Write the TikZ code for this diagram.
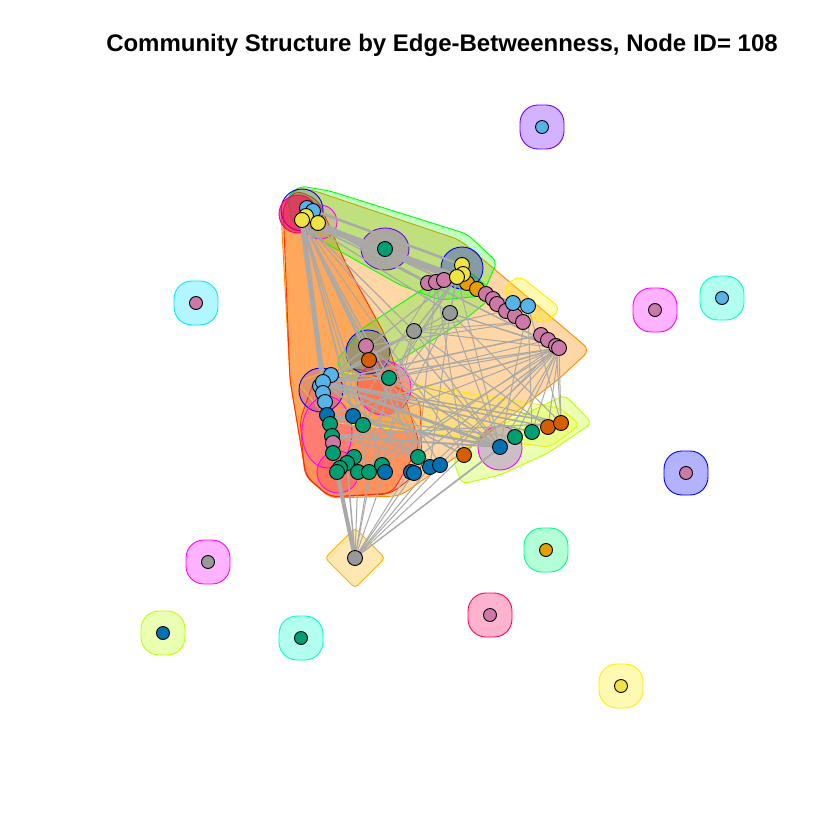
\documentclass[tikz,border=0pt]{standalone}
\usepackage{fontspec}
\setsansfont{Liberation Sans}
\usepackage{xcolor}
\pgfdeclarelayer{hulls}
\pgfdeclarelayer{edges}
\pgfsetlayers{hulls,edges,main}

% vertex colours
\definecolor{oOrange}{HTML}{E69F00}
\definecolor{oSky}{HTML}{56B4E9}
\definecolor{oGreen}{HTML}{009E73}
\definecolor{oYellow}{HTML}{F0E442}
\definecolor{oBlue}{HTML}{0072B2}
\definecolor{oVerm}{HTML}{D55E00}
\definecolor{oPink}{HTML}{CC79A7}
\definecolor{oGray}{HTML}{999999}
\definecolor{edgegray}{HTML}{A9A9A9}
% community colours
\definecolor{hRed}{HTML}{FF3000}
\definecolor{hOrange}{HTML}{FF8C00}
\definecolor{hDark}{HTML}{FF7A10}
\definecolor{hAmber}{HTML}{FFB000}
\definecolor{hYellow}{HTML}{FFEE00}
\definecolor{hLime}{HTML}{BBFF00}
\definecolor{hGreen}{HTML}{00FF00}
\definecolor{hSpring}{HTML}{00FF80}
\definecolor{hAqua}{HTML}{00FFCC}
\definecolor{hCyan}{HTML}{00E5FF}
\definecolor{hBlue}{HTML}{0000FF}
\definecolor{hViolet}{HTML}{7000FF}
\definecolor{hMagenta}{HTML}{FF00FF}
\definecolor{hRose}{HTML}{FF0060}

\tikzset{
  vtx/.style={circle, draw=black, line width=0.9pt, minimum size=15pt, inner sep=0pt},
  lone/.style={vtx, minimum size=13pt},
  edge/.style={draw=edgegray},
  hull/.style={fill opacity=0.3, line width=0.9pt},
  blob/.style={hull, rounded corners=18pt},
}

\begin{document}
\begin{tikzpicture}[x=1pt, y=-1pt]
\useasboundingbox (0,0) rectangle (840,840);

\node[font=\sffamily\bfseries\fontsize{24}{28}\selectfont, anchor=base] (title) at (442,52)
  {Community Structure by Edge-Betweenness, Node ID= 108};

\begin{pgfonlayer}{hulls}
\fill[white] (0,0) rectangle (840,840);
% large communities
\draw[hull, draw=hOrange, fill=hOrange, fill opacity=0.35, rounded corners=8pt]
  (281,212) -- (296,188) -- (312,190) -- (460,240) -- (590,350) -- (560,378)
  -- (480,440) -- (400,496) -- (330,498) -- (306,476) -- (290,380) -- cycle;
\draw[hull, draw=hRed, fill=hDark, fill opacity=0.5, rounded corners=8pt]
  (283,205) -- (296,190) -- (318,200) -- (345,262) -- (385,335) -- (420,445)
  -- (392,493) -- (330,497) -- (306,476) -- (290,380) -- cycle;
\draw[hull, draw=hRed, fill=hRose, fill opacity=0.12, rounded corners=8pt]
  (300,420) -- (315,378) -- (360,368) -- (420,400) -- (422,470) -- (390,494)
  -- (330,497) -- (305,476) -- cycle;
\draw[hull, draw=hGreen, fill=hGreen, fill opacity=0.25, rounded corners=6pt]
  (287,197) -- (300,186) -- (330,191) -- (467,234) -- (497,262) -- (482,296)
  -- (440,300) -- (400,285) -- (320,240) -- (292,222) -- cycle;
\draw[hull, draw=hGreen, fill=hGreen, fill opacity=0.22, rounded corners=6pt]
  (440,278) -- (470,272) -- (496,294) -- (462,322) -- (400,360) -- (350,382)
  -- (336,362) -- (360,330) -- cycle;
\draw[hull, draw=hYellow, fill=hYellow, fill opacity=0.3, rounded corners=6pt]
  (505,285) -- (520,276) -- (560,308) -- (547,323) -- (510,312) -- cycle;
\draw[hull, draw=hYellow, fill=hYellow, fill opacity=0.22, rounded corners=6pt]
  (297,382) -- (330,370) -- (560,408) -- (580,425) -- (550,447) -- (330,422) -- cycle;
\draw[hull, draw=hLime, fill=hLime, fill opacity=0.3, rounded corners=6pt]
  (453,460) -- (480,435) -- (565,395) -- (592,423) -- (548,453) -- (500,475)
  -- (462,484) -- cycle;
% small communities
\draw[hull, draw=hBlue, fill=hBlue, fill opacity=0.15] (302,210) circle (21);
\draw[hull, draw=hMagenta, fill=hMagenta, fill opacity=0.15] (320,222) circle (17);
\draw[hull, draw=hRose, fill=hRose, fill opacity=0.6] (298,214) circle (19);
\draw[hull, draw=hViolet, fill=hViolet, fill opacity=0.25] (385,249) ellipse (24 and 21);
\draw[hull, draw=hBlue, fill=hBlue, fill opacity=0.3] (462,268) circle (21);
\draw[hull, draw=hBlue, fill=hBlue, fill opacity=0.2] (368,352) circle (22);
\draw[hull, draw=hMagenta, fill=hRose, fill opacity=0.3] (384,388) circle (27);
\draw[hull, draw=hBlue, fill=hViolet, fill opacity=0.2] (321,390) circle (22);
\draw[hull, draw=hMagenta, fill=hMagenta, fill opacity=0.15] (327,432) ellipse (25 and 36);
\draw[hull, draw=hMagenta, fill=hRose, fill opacity=0.2] (338,472) circle (21);
\draw[hull, draw=hMagenta, fill=hViolet, fill opacity=0.25] (500,448) circle (22);
\draw[hull, draw=hAmber, fill=hAmber, rounded corners=4pt]
  (355,528) -- (385,558) -- (355,588) -- (325,558) -- cycle;
\end{pgfonlayer}

% vertices of the main component
\foreach \n/\x/\y/\c in {
  tlb1/307/208/oSky, tlb2/313/211/oSky, tly2/306/216/oYellow, tly1/302/220/oYellow, tly3/318/223/oYellow,
  gM/385/249/oGreen,
  urp1/428/283/oPink, urp2/436/282/oPink, urp3/444/280/oPink,
  uro1/467/283/oOrange, uro2/477/289/oOrange,
  ury1/462/265/oYellow, ury3/463/274/oYellow, ury2/457/277/oYellow,
  urp4/486/294/oPink, urp5/493/299/oPink, urp6/497/304/oPink, urp7/506/311/oPink,
  urp8/515/316/oPink, urp9/523/322/oPink,
  urs1/513/303/oSky, urs2/528/306/oSky,
  urp10/541/335/oPink, urp11/548/340/oPink, urp12/556/346/oPink, urp13/559/348/oPink,
  gy1/450/313/oGray, gy2/414/331/oGray,
  mp/366/346/oPink, mv/369/360/oVerm, mg/389/378/oGreen,
  ls1/331/375/oSky, ls3/320/386/oSky, ls2/323/382/oSky, ls4/323/393/oSky, ls5/325/402/oSky,
  lb1/327/415/oBlue, lb2/353/416/oBlue, lg2/363/425/oGreen,
  lg1/330/424/oGreen, lg3/332/436/oGreen, lp/333/443/oPink, lg4/333/453/oGreen,
  bg4/354/457/oGreen, bg3/347/463/oGreen, bg2/340/468/oGreen, bg1/337/472/oGreen,
  bg5/358/472/oGreen, bg6/369/472/oGreen, bg7/382/465/oGreen, bb1/385/472/oBlue,
  bg8/418/457/oGreen, bb3/411/472/oBlue, bb2/414/473/oBlue, bb4/430/467/oBlue, bb5/440/465/oBlue,
  bv/464/455/oVerm, bbl/500/447/oBlue, bg9/515/437/oGreen, bg10/532/432/oGreen,
  bv2/548/427/oVerm, bv3/561/423/oVerm, bgr/355/558/oGray}
  \node[vtx, fill=\c] (\n) at (\x,\y) {};

% isolated vertices, each its own community
\foreach \n/\x/\y/\c/\h in {
  s1/542/127/oSky/hViolet, s2/196/303/oPink/hCyan, s3/655/310/oPink/hMagenta,
  s4/722/298/oSky/hAqua, s5/686/473/oPink/hBlue, s6/208/562/oGray/hMagenta,
  s7/546/550/oOrange/hSpring, s8/163/633/oBlue/hLime, s9/301/638/oGreen/hAqua,
  s10/490/615/oPink/hRose, s11/621/686/oYellow/hYellow}
{
  \begin{pgfonlayer}{hulls}
    \draw[blob, draw=\h, fill=\h] (\x-22,\y-22) rectangle (\x+22,\y+22);
  \end{pgfonlayer}
  \node[lone, fill=\c] (\n) at (\x,\y) {};
}

\begin{pgfonlayer}{edges}
\foreach \a/\b/\w in {
  tly1/ury2/6, tly1/gM/4, tly1/ls2/5, tly3/urp1/2.5, tly2/urp3/2, tlb1/ury1/2.5, tly3/uro1/2.5,
  tly1/mp/1.2, tly1/mv/1.2, tly1/mg/1.5, tly1/gy2/1.2, tly1/gy1/1.2, tly1/lb2/1.2,
  tly1/lg2/1.2, tly1/bg6/1.2, tly1/bb1/1.2, tly1/bg8/1.2, tly1/bb4/1, tly1/bbl/1.2,
  tly1/bv/1, tly1/urp13/1.5, tly1/urs1/2, tly1/ls5/2.5, tly1/lg1/1.5,
  urp13/bv3/1, urp13/bv2/1, urp13/bbl/1, urp13/bg10/1, urp13/bg9/1, urp13/bv/1,
  urp13/bb4/1, urp13/bg8/1.2, urp13/mg/1, urp13/lg2/1, urp13/gy1/1, urp13/gy2/1,
  urp13/bg5/1, urp13/lb1/1.5, urp13/ls2/1.2, urp12/bv3/1, urp12/bb5/1, urp12/bg7/1,
  bgr/bg1/4, bgr/bg3/1.5, bgr/bg5/1, bgr/bg6/1, bgr/bb1/1, bgr/bb2/1, bgr/bb4/1,
  bgr/bb5/1, bgr/bv/1, bgr/bbl/1, bgr/bg8/1, bgr/bg9/1, bgr/mg/1, bgr/lg4/2,
  ls2/bbl/3, ls2/bv2/1.5, ls2/bv3/1.5, ls2/mg/2, ls2/gy2/1.5, ls2/gy1/1.2, ls2/urp10/1.5,
  ls2/bg8/2, ls2/bv/1.5, ls2/bg10/1.5, ls2/mv/1.5,
  lb1/bbl/2.5, lb1/bb5/1.5, lb1/bg9/1.2, lg3/bbl/2, lg3/bv3/1.2, lg3/bg8/1.5,
  gy1/bbl/1, gy1/bv3/1, gy1/lg2/1, gy1/bg6/1, gy1/urp12/1, gy1/bb4/1,
  gy2/bbl/1, gy2/bv2/1, gy2/bg7/1, gy2/urp9/1, gy2/bg5/1,
  mg/bbl/1.5, mg/bv3/1, mg/urp11/1, mg/bb5/1, mp/bbl/1, mp/urp9/1, mp/bg8/1,
  ury2/gy1/1.5, ury2/gy2/1.5, ury2/lg2/1, ury2/mg/1, ury2/bbl/1, ury2/ls2/1.2,
  urp2/bv/1, urp2/bg8/1, urp2/lb2/1, urs2/bv3/1, urs2/bbl/1, urs2/bg10/1, urs2/gy2/1}
  \draw[edge, line width=\w pt] (\a) -- (\b);
\end{pgfonlayer}
\end{tikzpicture}
\end{document}
